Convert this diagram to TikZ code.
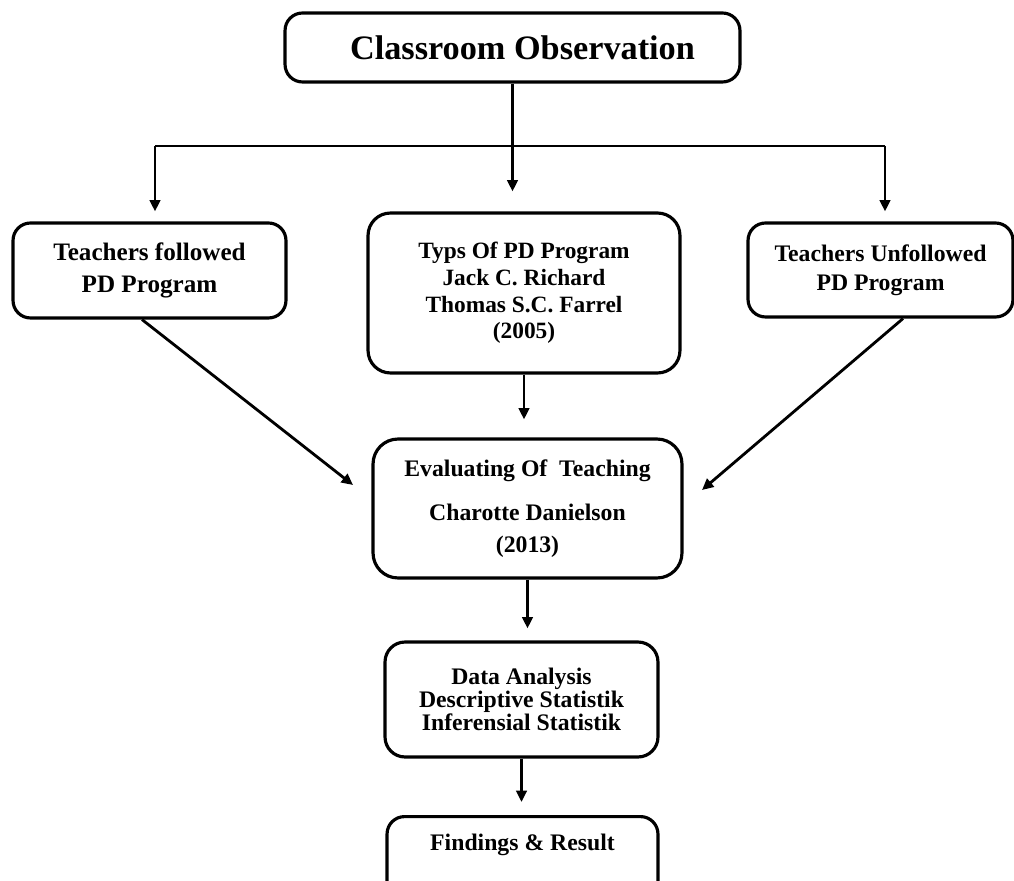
\documentclass[tikz,border=0pt]{standalone}
\usepackage{fontspec}
\setmainfont{Liberation Serif}
\usetikzlibrary{arrows.meta}
\newcommand{\boxline}{1.8pt}
\newcommand{\arrline}{1.6pt}
\tikzset{
  flowbox/.style={draw, line width=\boxline, rounded corners=3.5mm, align=center, inner sep=0pt},
  flowarrow/.style={line width=\arrline, -{Triangle[length=6.5pt,width=6pt]}},
  flowline/.style={line width=\arrline}
}

\begin{document}
\begin{tikzpicture}[x=0.02cm, y=-0.02cm]
\clip (0,0) rectangle (1014,881);
%boxes
\node[flowbox, minimum width=91mm, minimum height=13.8mm, font=\bfseries\fontsize{19.5}{22}\selectfont] (top) at (512.5,47.5) {\hspace*{4mm}Classroom Observation};
\node[flowbox, minimum width=54.6mm, minimum height=19mm, font=\bfseries\fontsize{14.3}{18}\selectfont] (left) at (149.5,270.5) {Teachers followed\\PD Program};
\node[flowbox, rounded corners=4.5mm, minimum width=62.4mm, minimum height=32mm, font=\bfseries\fontsize{13.3}{15.1}\selectfont] (typs) at (524,293) {Typs Of PD Program\\Jack C. Richard\\Thomas S.C. Farrel\\(2005)};
\node[flowbox, minimum width=53mm, minimum height=18.8mm, font=\bfseries\fontsize{13.5}{16.4}\selectfont] (right) at (880.5,270) {Teachers Unfollowed\\PD Program};
\node[flowbox, rounded corners=5mm, minimum width=61.8mm, minimum height=27.8mm, font=\bfseries\fontsize{13.5}{18}\selectfont] (eval) at (527.5,508.5) {Evaluating Of\ \ Teaching\\[7pt]Charotte Danielson\\(2013)};
\node[flowbox, rounded corners=4mm, minimum width=54.6mm, minimum height=23mm, font=\bfseries\fontsize{13.5}{13.3}\selectfont] (data) at (521.5,699.5) {Data Analysis\\Descriptive Statistik\\Inferensial Statistik};
\node[flowbox, anchor=north, minimum width=54.2mm, text height=6.8mm, text depth=20mm, font=\bfseries\fontsize{13.5}{16}\selectfont] (find) at (522.5,815) {Findings \& Result};
%fork
\coordinate (hl) at (155,146);
\coordinate (hr) at (885,146);
\coordinate (ltip) at (353,485);
\coordinate (rtip) at (702,490);
\draw[flowline] (hl) -- (hr);
\draw[flowarrow, shorten >=4mm] (top.south) -- (top.south |- typs.north);
\draw[flowarrow, shorten >=2mm] (hl) -- (hl |- left.north);
\draw[flowarrow, shorten >=2mm] (hr) -- (hr |- right.north);
%down the middle
\draw[flowarrow, shorten >=3.6mm] (typs.south) -- (typs.south |- eval.north);
\draw[flowarrow, shorten >=2.4mm] (eval.south) -- (eval.south |- data.north);
\draw[flowarrow, shorten >=2.6mm] (data.south) -- (data.south |- find.north);
%diagonals
\draw[flowarrow] ([xshift=-1.5mm]left.south) -- (ltip);
\draw[flowarrow] ([xshift=4.5mm]right.south) -- (rtip);
\end{tikzpicture}
\end{document}
